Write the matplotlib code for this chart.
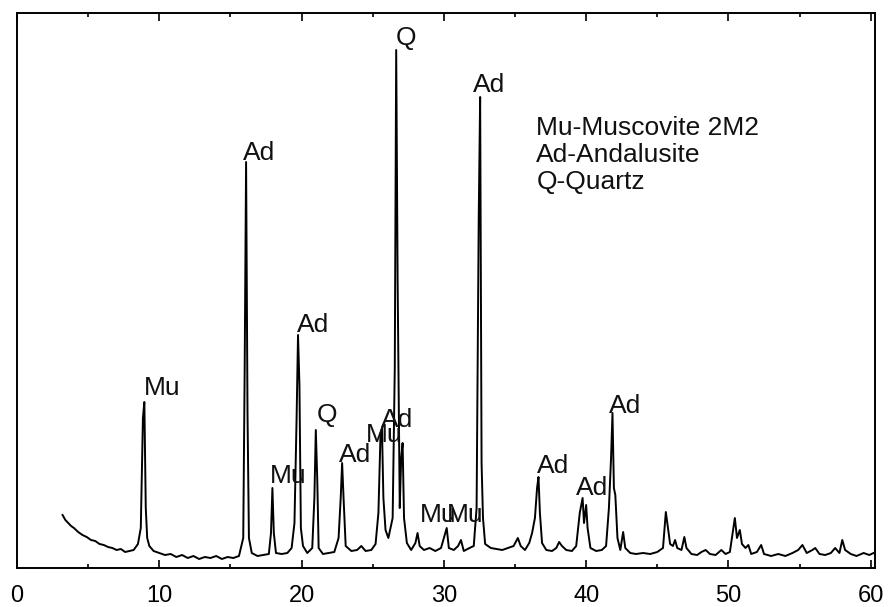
import matplotlib
matplotlib.use('Agg')
import matplotlib.pyplot as plt
from matplotlib.ticker import MultipleLocator

plt.rcParams['font.family'] = ['Liberation Sans', 'DejaVu Sans']

# pattern: 2-theta (deg) and intensity (arb. units)
two_theta = [3.2, 3.4, 3.6, 3.8, 4.0, 4.3, 4.6, 4.9, 5.2, 5.5, 5.8, 6.1, 6.4, 6.7, 7.0, 7.3, 7.6, 7.9, 8.2, 8.5,
             8.7, 8.85, 8.95, 9.05, 9.15, 9.3, 9.6, 10.0, 10.4, 10.8, 11.2, 11.6, 12.0, 12.4, 12.8, 13.2, 13.6,
             14.0, 14.4, 14.8, 15.2, 15.6, 15.9, 16.0, 16.1, 16.2, 16.3, 16.5, 16.9, 17.3, 17.7, 17.85, 17.95,
             18.05, 18.2, 18.6, 19.0, 19.3, 19.5, 19.65, 19.75, 19.85, 19.95, 20.1, 20.4, 20.75, 20.9, 21.0,
             21.1, 21.2, 21.5, 21.9, 22.3, 22.6, 22.75, 22.85, 22.95, 23.1, 23.5, 23.9, 24.2, 24.5, 24.9, 25.2,
             25.4, 25.55, 25.65, 25.75, 25.9, 26.1, 26.4, 26.55, 26.65, 26.75, 26.9, 27.0, 27.1, 27.2, 27.4,
             27.7, 28.0, 28.15, 28.3, 28.6, 29.0, 29.4, 29.8, 30.1, 30.2, 30.35, 30.7, 31.0, 31.2, 31.4, 31.8,
             32.1, 32.3, 32.45, 32.55, 32.65, 32.75, 32.9, 33.3, 33.7, 34.1, 34.5, 34.9, 35.2, 35.4, 35.7,
             36.0, 36.2, 36.4, 36.55, 36.65, 36.75, 36.9, 37.2, 37.6, 37.9, 38.1, 38.3, 38.6, 39.0, 39.3,
             39.55, 39.75, 39.85, 40.0, 40.1, 40.3, 40.7, 41.1, 41.4, 41.6, 41.75, 41.85, 41.95, 42.05, 42.2,
             42.4, 42.6, 42.75, 43.1, 43.5, 44.0, 44.5, 45.0, 45.4, 45.6, 45.75, 45.9, 46.1, 46.25, 46.4,
             46.7, 46.9, 47.05, 47.4, 47.8, 48.1, 48.4, 48.7, 49.1, 49.5, 49.8, 50.1, 50.3, 50.45, 50.6, 50.8,
             50.95, 51.2, 51.4, 51.6, 52.0, 52.3, 52.5, 53.0, 53.5, 54.0, 54.5, 54.9, 55.2, 55.5, 55.9, 56.1,
             56.4, 56.8, 57.2, 57.5, 57.8, 58.0, 58.2, 58.6, 59.0, 59.5, 59.9, 60.2]
intensity = [53, 48, 45, 42, 40, 36, 33, 31, 28, 27, 24, 23, 21, 20, 18, 19, 16, 17, 18, 24,
             40, 150, 166, 60, 30, 22, 17, 15, 13, 14, 11, 13, 10, 12, 9, 11, 10,
             12, 9, 11, 10, 12, 30, 198, 406, 155, 30, 15, 12, 13, 14, 35, 80,
             35, 15, 14, 15, 20, 45, 150, 233, 183, 40, 22, 15, 20, 70, 138,
             90, 20, 14, 15, 16, 30, 70, 105, 70, 22, 17, 18, 22, 17, 18, 24,
             55, 135, 140, 70, 38, 30, 50, 200, 518, 287, 60, 110, 125, 50, 25,
             18, 25, 35, 22, 18, 20, 17, 20, 35, 40, 20, 18, 22, 28, 17, 20,
             22, 60, 350, 471, 105, 50, 24, 20, 19, 18, 20, 22, 30, 22, 18,
             25, 35, 50, 80, 91, 55, 25, 18, 17, 20, 26, 22, 18, 17, 22,
             55, 70, 45, 63, 40, 20, 17, 18, 22, 60, 110, 155, 80, 73, 30,
             18, 36, 20, 15, 14, 15, 14, 16, 20, 56, 40, 24, 22, 28, 20,
             18, 31, 20, 14, 13, 16, 18, 14, 13, 18, 14, 16, 35, 50, 30, 38,
             24, 20, 23, 14, 16, 23, 14, 12, 14, 12, 15, 18, 23, 15, 18, 20,
             14, 13, 15, 20, 15, 28, 18, 14, 12, 15, 13, 15]

# phase labels over the peaks
label_text = ['Mu', 'Ad', 'Mu', 'Ad', 'Q', 'Ad', 'Mu', 'Ad', 'Q', 'Mu', 'Mu', 'Ad', 'Ad', 'Ad', 'Ad']
label_x = [8.95, 15.85, 17.75, 19.65, 21.05, 22.65, 24.55, 25.6, 26.65, 28.3, 30.2, 32.05, 36.55, 39.3, 41.6]
label_y = [168, 403, 80, 231, 141, 101, 121, 136, 518, 41, 41, 471, 90, 68, 150]

legend_lines = ['Mu-Muscovite 2M2', 'Ad-Andalusite', 'Q-Quartz']

fig = plt.figure(figsize=(8.88, 6.07), dpi=100)
ax = fig.add_axes([17 / 888, 39 / 607, 858 / 888, 555 / 607])

ax.plot(two_theta, intensity, color='black', lw=1.4)

for t, x, y in zip(label_text, label_x, label_y):
    ax.text(x, y, t, fontsize=19, ha='left', va='bottom', color='#111111')

ax.text(36.5, 452, '\n'.join(legend_lines), fontsize=19, ha='left', va='top',
        linespacing=1.15, color='#111111')

ax.set_xlim(0, 60.3)
ax.set_ylim(0, 555)
ax.xaxis.set_major_locator(MultipleLocator(10))
ax.xaxis.set_minor_locator(MultipleLocator(5))
ax.tick_params(axis='x', which='both', direction='in', top=True, bottom=True,
               labelsize=17, pad=12, width=1.2)
ax.tick_params(axis='x', which='major', length=6)
ax.tick_params(axis='x', which='minor', length=3)
ax.set_yticks([])
for s in ax.spines.values():
    s.set_linewidth(1.4)

fig.savefig('out.png', dpi=100)
